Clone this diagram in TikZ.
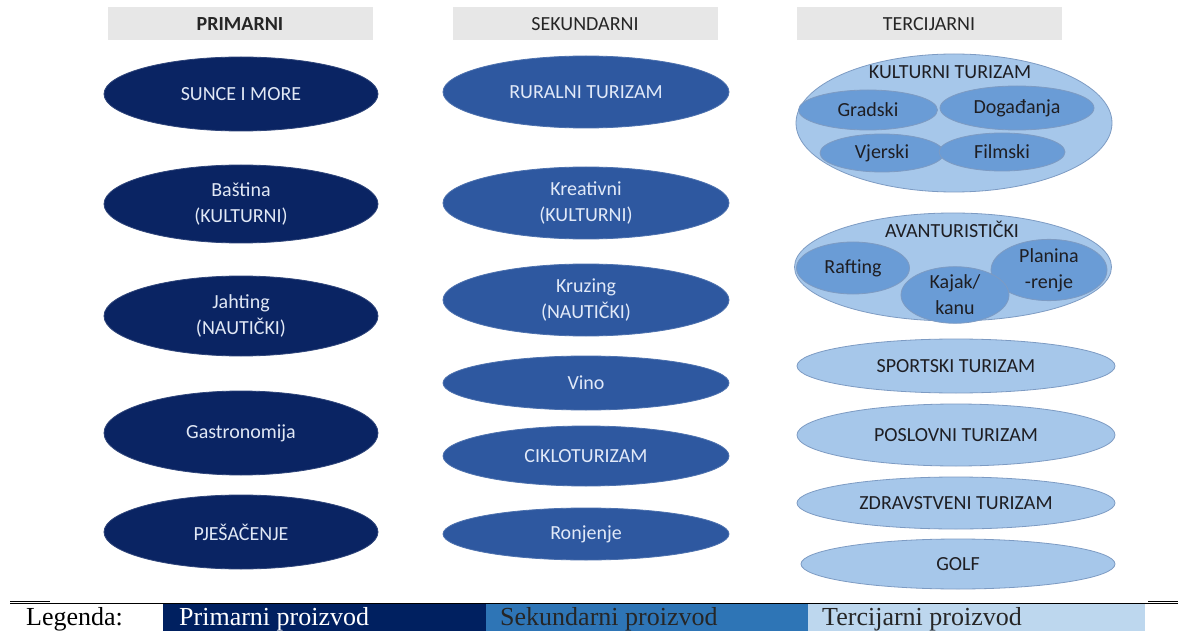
\documentclass[tikz,border=0pt]{standalone}
\usepackage{fontspec}
\setmainfont{Carlito}
\newfontfamily\legfont{Liberation Serif}
\usetikzlibrary{shapes.geometric}
\definecolor{prim}{RGB}{10,36,99}
\definecolor{primtext}{RGB}{225,232,245}
\definecolor{sek}{RGB}{46,88,160}
\definecolor{sektext}{RGB}{225,233,248}
\definecolor{ter}{RGB}{166,199,234}
\definecolor{terin}{RGB}{106,156,214}
\definecolor{terborder}{RGB}{125,155,195}
\definecolor{tertext}{RGB}{30,30,35}
\definecolor{hdr}{RGB}{231,231,231}
\definecolor{legprim}{RGB}{0,32,96}
\definecolor{legsek}{RGB}{46,117,182}
\definecolor{legter}{RGB}{189,215,238}
\begin{document}
\begin{tikzpicture}[x=1pt,y=-1pt,
  ell/.style={ellipse, inner sep=0pt, align=center, font=\fontsize{20}{26}\selectfont},
  pe/.style={ell, fill=prim, draw=prim!85!white, line width=0.8pt, text=primtext},
  se/.style={ell, fill=sek, draw=sek!85!white, line width=0.8pt, text=sektext},
  te/.style={ell, fill=ter, draw=terborder, line width=0.8pt, text=tertext},
  ti/.style={ell, fill=terin, draw=terborder, line width=0.8pt, text=tertext},
  ttl/.style={inner sep=0pt, text=tertext, font=\fontsize{20}{24}\selectfont},
  hdrbox/.style={fill=hdr, minimum width=265pt, minimum height=33pt, inner sep=0pt, text=black!85, font=\fontsize{20}{24}\selectfont},
  legbox/.style={inner sep=0pt, minimum height=30pt, anchor=north west},
  legtxt/.style={inner sep=0pt, anchor=base west, font=\legfont\fontsize{26}{30}\selectfont}
]
\clip (0,0) rectangle (1178,631);
\fill[white] (0,0) rectangle (1178,631);

% headers
\node[hdrbox] (hp) at (240,24) {\bfseries PRIMARNI};
\node[hdrbox] (hs) at (585,24) {SEKUNDARNI};
\node[hdrbox] (ht) at (929,24) {TERCIJARNI};

% primary
\node[pe, minimum width=274pt, minimum height=74pt] (p1) at (241,94) {SUNCE I MORE};
\node[pe, minimum width=274pt, minimum height=78pt] (p2) at (241,204) {Baština\\(KULTURNI)};
\node[pe, minimum width=274pt, minimum height=80pt] (p3) at (241,316) {Jahting\\(NAUTIČKI)};
\node[pe, minimum width=274pt, minimum height=84pt] (p4) at (241,433) {Gastronomija};
\node[pe, minimum width=274pt, minimum height=74pt] (p5) at (241,532) {PJEŠAČENJE};

% secondary
\node[se, minimum width=286pt, minimum height=72pt] (s1) at (586,92) {RURALNI TURIZAM};
\node[se, minimum width=286pt, minimum height=72pt] (s2) at (586,203) {Kreativni\\(KULTURNI)};
\node[se, minimum width=286pt, minimum height=72pt] (s3) at (586,300) {Kruzing\\(NAUTIČKI)};
\node[se, minimum width=286pt, minimum height=54pt] (s4) at (586,383) {Vino};
\node[se, minimum width=286pt, minimum height=60pt] (s5) at (586,456) {CIKLOTURIZAM};
\node[se, minimum width=286pt, minimum height=52pt] (s6) at (586,534) {Ronjenje};

% tertiary: kulturni
\node[te, minimum width=316pt, minimum height=138pt] (kt) at (954,123) {};
\node[ti, minimum width=139pt, minimum height=40pt] (kg) at (868,110) {Gradski};
\node[ti, minimum width=154pt, minimum height=44pt] (kd) at (1017,108) {Događanja};
\node[ti, minimum width=124pt, minimum height=38pt] (kv) at (882,153) {Vjerski};
\node[ti, minimum width=126pt, minimum height=38pt] (kf) at (1002,152) {Filmski};
\node[ttl] (ktt) at (950,72) {KULTURNI TURIZAM};

% tertiary: avanturisticki
\node[te, minimum width=317pt, minimum height=108pt] (av) at (953,267) {};
\node[ti, minimum width=113pt, minimum height=52pt] (ar) at (853,268) {Rafting};
\node[ti, minimum width=116pt, minimum height=56pt] (ap) at (1049,270) {Planina\\-renje};
\node[ti, minimum width=108pt, minimum height=56pt] (ak) at (955,295) {Kajak/\\kanu};
\node[ttl] (avt) at (952,229) {AVANTURISTIČKI};

% tertiary: others
\node[te, minimum width=318pt, minimum height=54pt] (t1) at (956,366) {SPORTSKI TURIZAM};
\node[te, minimum width=318pt, minimum height=62pt] (t2) at (956,435) {POSLOVNI TURIZAM};
\node[te, minimum width=318pt, minimum height=52pt] (t3) at (956,503) {ZDRAVSTVENI TURIZAM};
\node[te, minimum width=314pt, minimum height=50pt] (t4) at (958,564) {GOLF};

% legend
\draw[line width=0.8pt] (10,603) -- (1178,603);
\draw[line width=1.6pt] (10,601.5) -- (50,601.5);
\draw[line width=1.6pt] (1148,601.5) -- (1178,601.5);
\node[legbox, fill=legprim, minimum width=323pt] (lp) at (163,604) {};
\node[legbox, fill=legsek, minimum width=322pt] (ls) at (486,604) {};
\node[legbox, fill=legter, minimum width=337pt] (lt) at (808,604) {};
\node[legtxt] (lg) at (26,625) {Legenda:};
\node[legtxt, text=white] (lpt) at (179,625) {Primarni proizvod};
\node[legtxt, text=black!85] (lst) at (500,625) {Sekundarni proizvod};
\node[legtxt, text=black!85] (ltt) at (822,625) {Tercijarni proizvod};
\end{tikzpicture}
\end{document}
